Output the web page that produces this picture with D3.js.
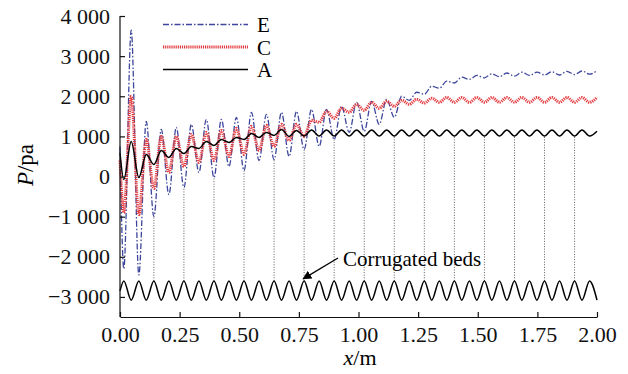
<!DOCTYPE html>
<html>
<head>
<meta charset="utf-8">
<script src="https://cdn.jsdelivr.net/npm/d3@7"></script>
<style>
  body { margin: 0; background: #fff; }
  svg { display: block; }
  svg text { font-family: "Liberation Serif", "Times New Roman", serif; }
</style>
</head>
<body>
<svg id="chart" width="628" height="374"></svg>
<script>
// x positions (m) of bed crests / troughs, shared by every series
const xGrid = [0, 0.016, 0.047, 0.079, 0.110, 0.142, 0.173, 0.205, 0.236, 0.268, 0.299,
  0.331, 0.362, 0.394, 0.425, 0.457, 0.488, 0.520, 0.551, 0.583, 0.614, 0.646, 0.677,
  0.709, 0.740, 0.772, 0.803, 0.835, 0.866, 0.898, 0.929, 0.961, 0.992, 1.024, 1.055,
  1.087, 1.118, 1.150, 1.181, 1.213, 1.244, 1.276, 1.307, 1.339, 1.370, 1.402, 1.433,
  1.465, 1.496, 1.528, 1.559, 1.591, 1.622, 1.654, 1.685, 1.717, 1.748, 1.780, 1.811,
  1.843, 1.874, 1.906, 1.937, 1.969, 2.000];

const seriesE = [750, -2300, 3650, -2450, 1375, -1000, 1175, -450, 1225, -275, 1300,
  100, 1425, -25, 1425, 250, 1475, 150, 1600, 400, 1550, 425, 1600, 500, 1625,
  675, 1675, 750, 1675, 925, 1750, 1100, 1850, 1125, 1875, 1300, 1925, 1475, 2000,
  1900, 2100, 2050, 2250, 2200, 2375, 2330, 2475, 2420, 2520, 2460, 2560, 2490, 2580,
  2500, 2600, 2520, 2600, 2530, 2610, 2530, 2620, 2540, 2630, 2550, 2640];

const seriesC = [400, -900, 2000, -950, 925, -300, 1000, 100, 1000, 250, 1050,
  350, 1100, 400, 1150, 500, 1200, 550, 1250, 650, 1275, 750, 1300, 900, 1300,
  1000, 1400, 1350, 1625, 1450, 1700, 1600, 1800, 1650, 1850, 1700, 1875, 1750, 1900,
  1800, 1925, 1830, 1950, 1850, 1970, 1850, 1970, 1850, 1970, 1850, 1970, 1850, 1970,
  1850, 1970, 1850, 1970, 1850, 1970, 1850, 1970, 1850, 1970, 1850, 1975];

const seriesA = [600, -75, 875, -25, 550, 300, 650, 475, 700, 575, 750,
  700, 875, 775, 925, 850, 975, 925, 1075, 975, 1100, 1025, 1175, 1000, 1150,
  1010, 1160, 1010, 1160, 1010, 1160, 1010, 1160, 1010, 1160, 1010, 1160, 1010, 1160,
  1010, 1160, 1010, 1160, 1010, 1160, 1010, 1160, 1010, 1160, 1010, 1160, 1010, 1160,
  1010, 1160, 1010, 1160, 1010, 1160, 1010, 1160, 1010, 1160, 1010, 1130];

const bedProfile = [-2850, -2600, -3080, -2600, -3080, -2600, -3080, -2600, -3080, -2600, -3080,
  -2600, -3080, -2600, -3080, -2600, -3080, -2600, -3080, -2600, -3080, -2600, -3080,
  -2600, -3080, -2600, -3080, -2600, -3080, -2600, -3080, -2600, -3080, -2600, -3080,
  -2600, -3080, -2600, -3080, -2600, -3080, -2600, -3080, -2600, -3080, -2600, -3080,
  -2600, -3080, -2600, -3080, -2600, -3080, -2600, -3080, -2600, -3080, -2600, -3080,
  -2600, -3080, -2600, -3080, -2600, -3080];

// measuring points marked by dotted lines
const probeX = [0.142, 0.268, 0.394, 0.520, 0.646, 0.772, 0.898, 1.024, 1.150,
  1.276, 1.402, 1.528, 1.654, 1.780, 1.906];

const xTicks = [0, 0.25, 0.5, 0.75, 1.0, 1.25, 1.5, 1.75, 2.0];
const yTicks = [-3000, -2000, -1000, 0, 1000, 2000, 3000, 4000];

const legendItems = [
  { name: "E", cls: "E" },
  { name: "C", cls: "C" },
  { name: "A", cls: "A" }
];

const FONT = '"Liberation Serif", "Times New Roman", serif';
const svg = d3.select("#chart");
const plotLeft = 120, plotRight = 597, plotTop = 16, plotBottom = 317;

const x = d3.scaleLinear().domain([0, 2]).range([plotLeft, plotRight]);
const y = d3.scaleLinear().domain([-3500, 4000]).range([plotBottom, plotTop]);

const styles = {
  E: { stroke: "#3d469c", width: 1.3, dash: "6,2,1.5,2" },
  C: { stroke: "#e23b3f", width: 3, dash: "1.2,0.9" },
  A: { stroke: "#000", width: 1.5, dash: null }
};

const toPoints = vals => vals.map((v, i) => [xGrid[i], v]);
const line = d3.line()
  .x(d => x(d[0]))
  .y(d => y(d[1]))
  .curve(d3.curveMonotoneX);

// dotted probe lines from bed crest up to lowest curve
const g = svg.append("g");
probeX.forEach(px => {
  const i = d3.minIndex(xGrid, v => Math.abs(v - px));
  const lowest = d3.min([seriesE[i], seriesC[i], seriesA[i]]);
  g.append("line")
    .attr("x1", x(px)).attr("x2", x(px))
    .attr("y1", y(bedProfile[i])).attr("y2", y(lowest))
    .attr("stroke", "#333")
    .attr("stroke-width", 0.8)
    .attr("stroke-dasharray", "1,1.6");
});

g.append("path")
  .datum(toPoints(bedProfile))
  .attr("fill", "none")
  .attr("stroke", "#000")
  .attr("stroke-width", 1.5)
  .attr("d", line);

const drawSeries = (vals, st) => {
  g.append("path")
    .datum(toPoints(vals))
    .attr("fill", "none")
    .attr("stroke", st.stroke)
    .attr("stroke-width", st.width)
    .attr("stroke-dasharray", st.dash)
    .attr("stroke-linejoin", "round")
    .attr("d", line);
};
drawSeries(seriesE, styles.E);
drawSeries(seriesC, styles.C);
drawSeries(seriesA, styles.A);

// axes
const fmt = d3.formatLocale({ decimal: ".", thousands: " ", grouping: [3], currency: ["", ""], minus: "\u2212" }).format(",");

const yAxis = svg.append("g")
  .attr("transform", `translate(${plotLeft},0)`)
  .call(d3.axisLeft(y).tickValues(yTicks).tickFormat(fmt).tickSizeInner(-5).tickSizeOuter(0).tickPadding(10));

const xAxis = svg.append("g")
  .attr("transform", `translate(0,${plotBottom})`)
  .call(d3.axisBottom(x).tickValues(xTicks).tickFormat(d3.format(".2f")).tickSizeInner(-5).tickSizeOuter(0).tickPadding(9));

[yAxis, xAxis].forEach(a => {
  a.attr("font-family", FONT).attr("font-size", 22);
  a.selectAll("text").style("font-family", FONT).attr("fill", "#111");
  a.selectAll("line, path").attr("stroke", "#111").attr("stroke-width", 1.2);
});
// domain of y-axis stops at the 4 000 tick
yAxis.select(".domain").attr("d", `M0,${plotBottom}V${y(4000)}`);

// axis titles
svg.append("text")
  .attr("transform", "translate(33,165) rotate(-90)")
  .attr("text-anchor", "middle")
  .attr("font-size", 23)
  .html('<tspan font-style="italic">P</tspan>/pa');

svg.append("text")
  .attr("x", 360).attr("y", 365)
  .attr("text-anchor", "middle")
  .attr("font-size", 22)
  .html('<tspan font-style="italic">x</tspan>/m');

// legend
const legend = svg.append("g");
legendItems.forEach((d, i) => {
  const ly = 24.5 + i * 22.5;
  const st = styles[d.cls];
  legend.append("line")
    .attr("x1", 163).attr("x2", 248)
    .attr("y1", ly).attr("y2", ly)
    .attr("stroke", st.stroke)
    .attr("stroke-width", st.width)
    .attr("stroke-dasharray", st.dash);
  legend.append("text")
    .attr("x", 257).attr("y", ly + 7.5)
    .attr("font-size", 21)
    .text(d.name);
});

// annotation
svg.append("defs").append("marker")
  .attr("id", "arrow")
  .attr("viewBox", "0 0 10 10")
  .attr("refX", 9).attr("refY", 5)
  .attr("markerWidth", 9).attr("markerHeight", 9)
  .attr("markerUnits", "userSpaceOnUse")
  .attr("orient", "auto")
  .append("path")
  .attr("d", "M0,0L10,5L0,10z")
  .attr("fill", "#000");

svg.append("line")
  .attr("x1", x(0.914)).attr("y1", y(-2030))
  .attr("x2", x(0.768)).attr("y2", y(-2550))
  .attr("stroke", "#000")
  .attr("stroke-width", 1.3)
  .attr("marker-end", "url(#arrow)");

svg.append("text")
  .attr("x", x(0.935)).attr("y", y(-2230))
  .attr("font-size", 21)
  .text("Corrugated beds");
</script>
</body>
</html>
